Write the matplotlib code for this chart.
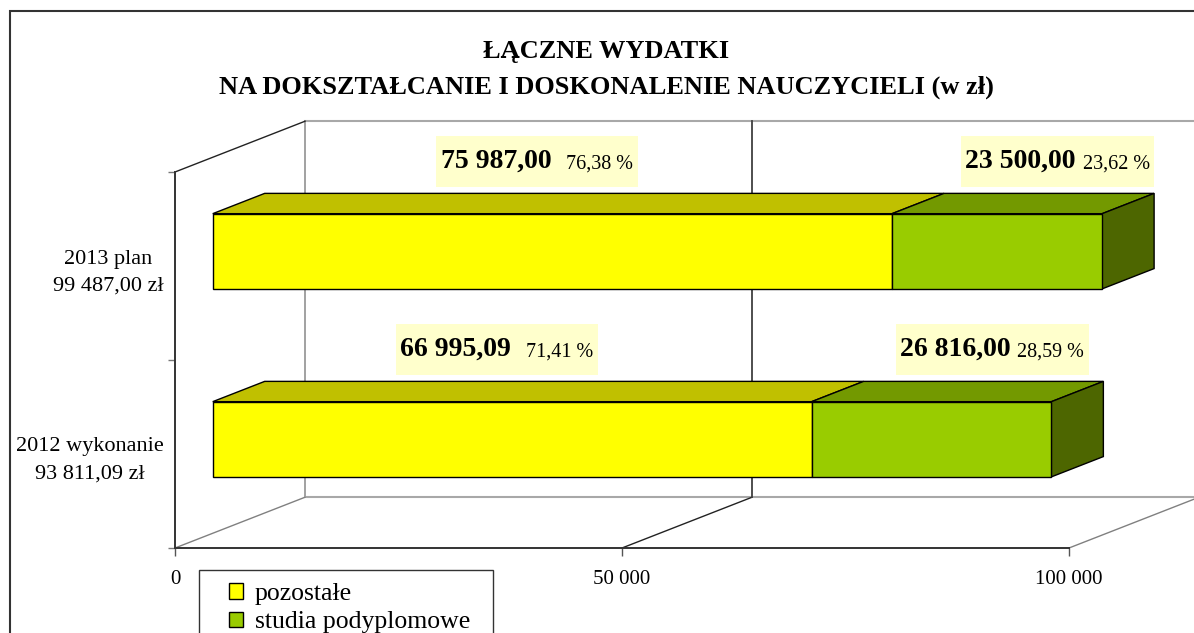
import matplotlib
matplotlib.use('Agg')
import matplotlib.pyplot as plt
from matplotlib.patches import Polygon, Rectangle, Patch
from matplotlib.offsetbox import TextArea, HPacker, VPacker, DrawingArea, AnnotationBbox

# ---------------- data ----------------
categories = ['2012 wykonanie', '2013 plan']
pozostale = [66995.09, 75987.00]
studia = [26816.00, 23500.00]
series_names = ['pozostałe', 'studia podyplomowe']
xticks = [0, 50000, 100000]
xtick_labels = ['0', '50 000', '100 000']
title_lines = ['ŁĄCZNE WYDATKI', 'NA DOKSZTAŁCANIE I DOSKONALENIE NAUCZYCIELI (w zł)']

# ---------------- style ----------------
plt.rcParams['font.family'] = ['Liberation Serif', 'DejaVu Serif']
front_colors = ['#FFFF00', '#99CC00']
top_colors = ['#C0C000', '#739900']
side_color = '#4D6600'
label_bg = '#FFFFCC'

W, H = 1194, 633
fig = plt.figure(figsize=(W / 100, H / 100), dpi=100)
fig.patch.set_facecolor('white')

def fx(px):
    return px / W

def fy(py):
    return 1 - py / H

ax = fig.add_axes([fx(175), fy(548), 894 / W, 376 / H])
ax.set_xlim(0, 100000)
ax.set_ylim(0, 2)
ax.patch.set_visible(False)

# 3D projection parameters (oblique)
DX = 14541.0     # full depth offset in x data units
DY = 0.27        # full depth offset in y data units
f0, fd = 0.29, 0.40   # bar front depth fraction, bar thickness fraction
bar_h = 0.40

ypos = [i + 0.5 for i in range(len(categories))]
totals = [p + s for p, s in zip(pozostale, studia)]

def pl(v):
    return f"{v:,.2f}".replace(',', ' ').replace('.', ',')

def pct(v, t):
    return f"{v / t * 100:.2f}".replace('.', ',') + ' %'

# ---------------- walls / grid ----------------
gray = '#9A9A9A'
dark = '#404040'
ymax = 2
ax.plot([DX, 100000 + DX], [ymax + DY, ymax + DY], color='#A8A8A8', lw=1.5, clip_on=False, zorder=1)
ax.plot([DX, DX], [DY, ymax + DY], color=gray, lw=1.3, clip_on=False, zorder=1)
ax.plot([DX, 100000 + DX], [DY, DY], color='#A8A8A8', lw=1.5, clip_on=False, zorder=1)
ax.plot([0, DX], [ymax, ymax + DY], color='#222222', lw=1.0, clip_on=False, zorder=1)
for t in xticks:
    if t == 0:
        ax.plot([t, t + DX], [0, DY], color='#808080', lw=1.0, clip_on=False, zorder=1)
    elif t == xticks[-1]:
        ax.plot([t, t + DX], [0, DY], color='#808080', lw=1.0, clip_on=False, zorder=1)
        ax.plot([t + DX, t + DX], [DY, ymax + DY], color=gray, lw=1.3, clip_on=False, zorder=1)
    else:
        ax.plot([t, t + DX], [0, DY], color='#222222', lw=1.0, clip_on=False, zorder=1)
        ax.plot([t + DX, t + DX], [DY, ymax + DY], color=dark, lw=1.3, clip_on=False, zorder=1)

# ---------------- bars ----------------
x0 = DX * f0
yfront = [y + DY * f0 for y in ypos]
ddx, ddy = DX * fd, DY * fd
lefts = [[x0] * len(categories), [x0 + p for p in pozostale]]
series = [pozostale, studia]

for si, vals in enumerate(series):
    bars = ax.barh(yfront, vals, left=lefts[si], height=bar_h, color=front_colors[si],
                   edgecolor='black', linewidth=1.0, zorder=4)
    for b in bars:
        b.set_clip_on(False)
    for ci, v in enumerate(vals):
        xa = lefts[si][ci]
        xb = xa + v
        yt = yfront[ci] + bar_h / 2
        ax.add_patch(Polygon([(xa, yt), (xb, yt), (xb + ddx, yt + ddy), (xa + ddx, yt + ddy)],
                             closed=True, facecolor=top_colors[si], edgecolor='black',
                             linewidth=1.0, zorder=3, clip_on=False))
for ci, t in enumerate(totals):
    xe = x0 + t
    yt = yfront[ci] + bar_h / 2
    yb = yt - bar_h
    ax.add_patch(Polygon([(xe, yb), (xe, yt), (xe + ddx, yt + ddy), (xe + ddx, yb + ddy)],
                         closed=True, facecolor=side_color, edgecolor='black',
                         linewidth=1.0, zorder=3, clip_on=False))

# ---------------- axes ----------------
for s in ['top', 'right']:
    ax.spines[s].set_visible(False)
for s in ['left', 'bottom']:
    ax.spines[s].set_color('#333333')
    ax.spines[s].set_linewidth(1.4)
    ax.spines[s].set_zorder(2)
ax.set_xticks(xticks, xtick_labels)
ax.tick_params(axis='x', which='major', length=5.5, width=1.0, color='#555555',
               pad=10.5, labelsize=15, direction='out')
ax.tick_params(axis='x', which='minor', length=0)
ax.set_yticks([0, 1, 2])
ax.set_yticklabels([])
ax.tick_params(axis='y', which='major', length=5, width=1.0, color='#777777')
cat_labels = [f"{c}\n{pl(t)} zł" for c, t in zip(categories, totals)]
ax.set_yticks(ypos, minor=True)
ax.set_yticklabels(cat_labels, minor=True, fontsize=16, linespacing=1.55,
                   multialignment='center')
ax.tick_params(axis='y', which='minor', length=0, pad=8)

# ---------------- data labels ----------------
label_dx = [2500, 11000]
label_sep = [11, 5]
label_dy = 0.555
starts = [[0] * len(categories), list(pozostale)]
for si, vals in enumerate(series):
    for ci, v in enumerate(vals):
        xc = starts[si][ci] + v / 2 + label_dx[si]
        yc = ypos[ci] + label_dy
        ta1 = TextArea(pl(v), textprops=dict(fontsize=20, fontweight='bold', color='black'))
        ta2 = TextArea(pct(v, totals[ci]), textprops=dict(fontsize=14.5, color='black'))
        inner = HPacker(children=[ta1, ta2], align='baseline', pad=0, sep=label_sep[si])
        outer = VPacker(children=[DrawingArea(1, 6.5), inner, DrawingArea(1, 6.5)],
                        align='center', pad=3, sep=0)
        ab = AnnotationBbox(outer, (xc, yc), xycoords='data', frameon=True, pad=0,
                            box_alignment=(0.5, 0.5), annotation_clip=False,
                            bboxprops=dict(facecolor=label_bg, edgecolor='none',
                                           boxstyle='square,pad=0'))
        ab.set_zorder(6)
        ax.add_artist(ab)

# ---------------- title ----------------
fig.text(fx(606), fy(58), title_lines[0], ha='center', va='baseline',
         fontsize=19, fontweight='bold')
fig.text(fx(606), fy(94), title_lines[1], ha='center', va='baseline',
         fontsize=19, fontweight='bold')

# ---------------- legend ----------------
handles = [Patch(facecolor=c, edgecolor='black', linewidth=1.0) for c in front_colors]
fig.legend(handles, series_names, loc='upper left', bbox_to_anchor=(fx(229), fy(583)),
           bbox_transform=fig.transFigure, frameon=False, fontsize=18.5,
           handlelength=0.56, handleheight=0.56, handletextpad=0.45,
           labelspacing=0.25, borderpad=0, borderaxespad=0)
fig.add_artist(Rectangle((fx(199), -0.1), (493 - 199) / W, fy(570) + 0.1,
                         transform=fig.transFigure, fill=False, edgecolor='#333333', lw=1.0))

# ---------------- outer frame ----------------
fig.add_artist(Rectangle((fx(9.5), -0.1), 2, fy(11) + 0.1, transform=fig.transFigure,
                         fill=False, edgecolor='#333333', lw=1.5))

fig.savefig('out.png', dpi=100)
